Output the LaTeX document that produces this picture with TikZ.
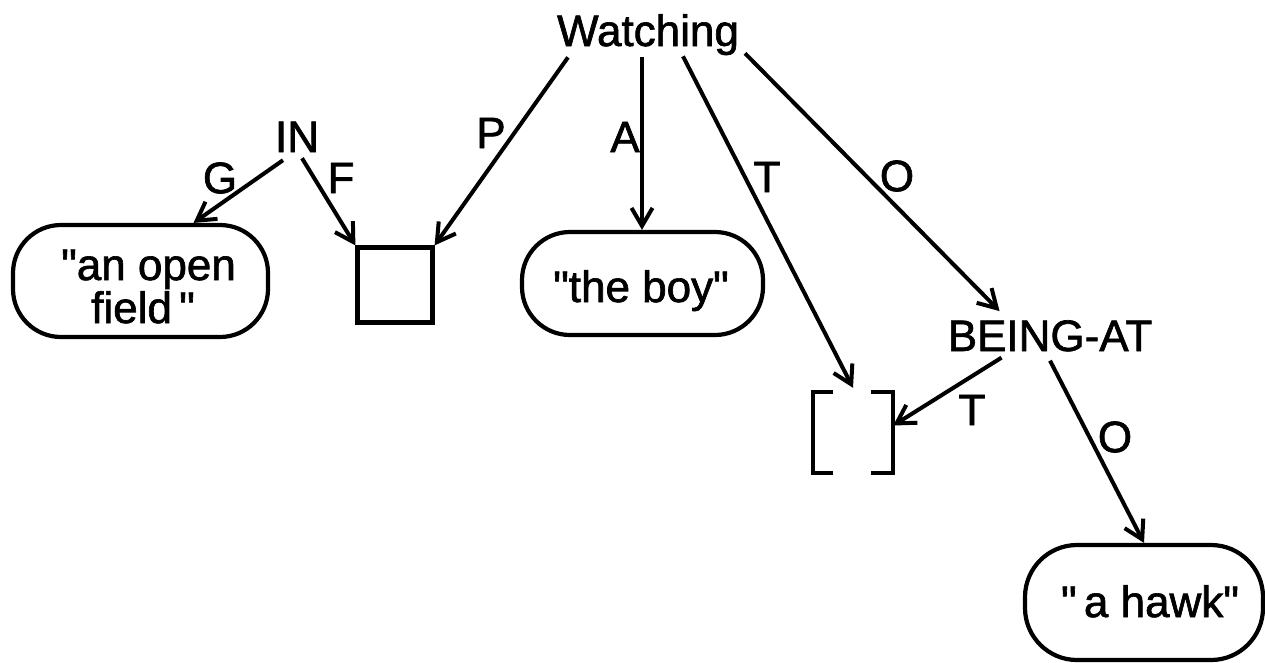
\documentclass[tikz,border=0pt]{standalone}
\usepackage{fontspec}
\setmainfont{Liberation Sans}[Ligatures=TeXOff,FakeBold=1.5]
\usetikzlibrary{arrows.meta}
\begin{document}
\begin{tikzpicture}[x=1pt,y=-1pt,
  every node/.style={inner sep=0pt,font=\fontsize{44}{43}\selectfont},
  pill/.style={draw,line width=4.2pt,rounded corners=48pt},
  rel/.style={line width=4pt,-{Straight Barb[length=18pt,width=21pt]}},
  brk/.style={line width=4.2pt},
  lab/.style={}]
\useasboundingbox (0,0) rectangle (1265,662);
% concept nodes
\node[anchor=base] (W) at (648,46) {Watching};
\node[anchor=base] (IN) at (297,152) {IN};
\node[anchor=base] (B) at (1050,351) {BEING-AT};
\node[pill,minimum width=255pt,minimum height=112pt] (OF) at (140.5,281) {};
\node[anchor=base west,align=left] (OFt) at (61,323) {"an open\\\hspace*{30pt}field\,"};
\node[draw,line width=4.2pt,minimum size=75pt] (sq) at (395,285) {};
\node[pill,minimum width=241pt,minimum height=103pt] (boy) at (642.5,283.5) {};
\node[anchor=base] (boyt) at (641,302) {"the boy"};
\node[minimum width=80pt,minimum height=81pt] (br) at (853,432.5) {};
\node[pill,minimum width=238pt,minimum height=115pt,rounded corners=52pt] (hawk) at (1144,602.5) {};
\node[anchor=base] (hawkt) at (1150,617) {"\,a hawk"};
% brackets
\draw[brk] ([xshift=20pt]br.north west) -- (br.north west) -- (br.south west) -- ([xshift=20pt]br.south west);
\draw[brk] ([xshift=-22pt]br.north east) -- (br.north east) -- (br.south east) -- ([xshift=-22pt]br.south east);
% relations
\draw[rel] ([xshift=-80pt,yshift=-2pt]W.south) -- (sq.north east);
\draw[rel] ([xshift=-6pt,yshift=-2pt]W.south) -- ([xshift=-0.5pt]boy.north);
\draw[rel] ([xshift=35pt,yshift=-1pt]W.south) -- ([yshift=4pt]br.north);
\draw[rel] ([xshift=97pt,yshift=2pt]W.south) -- ([xshift=52pt,yshift=9pt]B.north west);
\draw[rel] ([xshift=-14pt,yshift=-8pt]IN.south) -- ([xshift=53pt]OF.north);
\draw[rel] ([xshift=5pt,yshift=-6pt]IN.south) -- (sq.north west);
\draw[rel] ([xshift=54pt,yshift=-6pt]B.south west) -- ([yshift=7pt]br.east);
\draw[rel] ([yshift=-9pt]B.south) -- (hawk.north);
% labels
\node[lab] (lP) at (491,133) {P};
\node[lab] (lA) at (625,137) {A};
\node[lab] (lT) at (767,177) {T};
\node[lab] (lO) at (897,176) {O};
\node[lab] (lG) at (220,178) {G};
\node[lab] (lF) at (341,178) {F};
\node[lab] (lT2) at (972,410) {T};
\node[lab] (lO2) at (1115,437) {O};
\end{tikzpicture}
\end{document}
